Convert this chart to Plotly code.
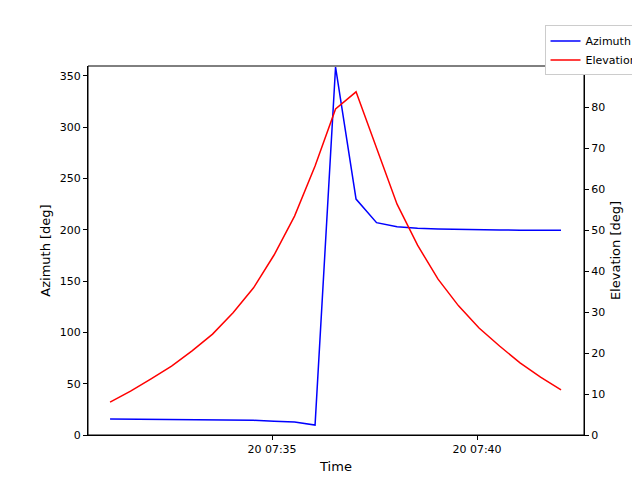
import plotly.graph_objects as go
import pandas as pd

times = pd.date_range("2024-01-20 07:31:03", periods=23, freq="30s")
azimuth = [15.6, 15.5, 15.5, 15.4, 15.3, 15.1, 14.8, 14.3, 13.5, 12.7, 9.7, 358.7, 230, 207, 203, 201.5, 200.8, 200.3, 200.0, 199.8, 199.7, 199.6, 199.5]
elevation = [8.0, 10.7, 13.7, 16.8, 20.5, 24.6, 29.8, 35.9, 43.9, 53.4, 65.6, 79.5, 83.7, 70.0, 56.3, 46.3, 38.0, 31.5, 26.1, 21.7, 17.6, 14.1, 11.0]
tickvals = ["2024-01-20 07:35:00", "2024-01-20 07:40:00"]
ticktext = ["20 07:35", "20 07:40"]

fig = go.Figure()
fig.add_trace(go.Scatter(x=times, y=azimuth, mode="lines", name="Azimuth", line=dict(color="blue", width=1.5)))
fig.add_trace(go.Scatter(x=times, y=elevation, mode="lines", name="Elevation", line=dict(color="red", width=1.5), yaxis="y2"))

ax = dict(showline=True, linecolor="black", mirror=False, ticks="outside", ticklen=4, tickcolor="black",
          showgrid=False, zeroline=False, automargin=False)
fig.update_layout(
    width=640, height=480, plot_bgcolor="white", paper_bgcolor="white",
    font=dict(family="DejaVu Sans", size=11, color="black"),
    margin=dict(l=80, r=64, t=58, b=53, autoexpand=False),
    xaxis=dict(**ax, range=["2024-01-20 07:30:30.7", "2024-01-20 07:42:36.6"], tickvals=tickvals, ticktext=ticktext,
               title=dict(text="Time", standoff=6)),
    yaxis=dict(**ax, range=[0, 359.7], dtick=50, title=dict(text="Azimuth [deg]", standoff=6)),
    yaxis2=dict(**ax, range=[0, 90], dtick=10, overlaying="y", side="right", title=dict(text="Elevation [deg]", standoff=6)),
    legend=dict(x=1.12, y=1.11, xanchor="right", yanchor="top",
                bordercolor="#cccccc", borderwidth=1, font=dict(size=11), tracegroupgap=0),
    shapes=[dict(type="rect", xref="paper", yref="paper", x0=0, x1=1, y0=0, y1=1, line=dict(color="black", width=1))],
)
fig.write_html("out.html")
